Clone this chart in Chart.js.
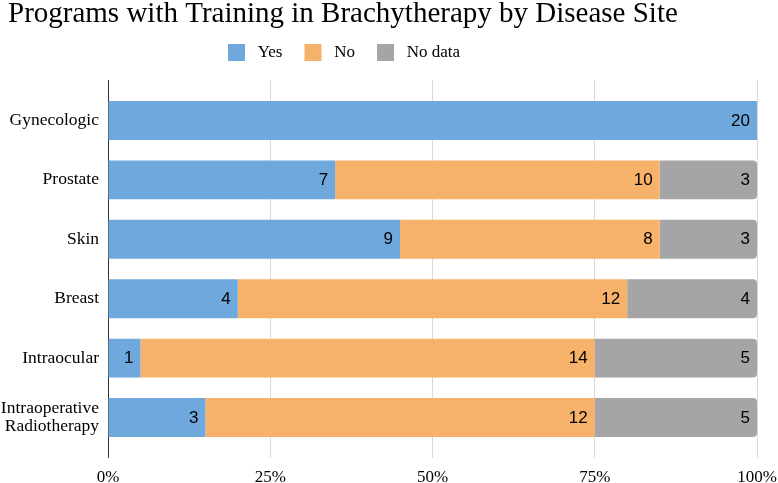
<!DOCTYPE html>
<html><head><meta charset="utf-8">
<script src="https://cdn.jsdelivr.net/npm/chart.js@4"></script>
<style>html,body{margin:0;padding:0;background:#fff;overflow:hidden}canvas{display:block}</style>
</head><body><canvas id="c" width="778" height="483" style="width:778px;height:483px"></canvas>
<script>
const categories = ['Gynecologic','Prostate','Skin','Breast','Intraocular',['Intraoperative','Radiotherapy']];
const yesCounts = [20,7,9,4,1,3];
const noCounts = [0,10,8,12,14,12];
const noDataCounts = [0,3,3,4,5,5];
const seriesNames = ['Yes','No','No data'];
const xTicks = [0,25,50,75,100];

const totals = yesCounts.map((v,i)=>v+noCounts[i]+noDataCounts[i]);
const pct = arr => arr.map((v,i)=>v/totals[i]*100);
const rawSeries = [yesCounts,noCounts,noDataCounts];
const colors = ['#6fa8dc','#f6b26b','#a5a5a5'];
const SERIF = '"Liberation Serif", "Times New Roman", serif';

const labelPlugin = {
  id:'segLabels',
  afterDatasetsDraw(chart){
    const ctx = chart.ctx;
    ctx.save();
    ctx.font = '17px "Liberation Sans", Arial, sans-serif';
    ctx.fillStyle = '#000';
    ctx.textAlign = 'right';
    ctx.textBaseline = 'middle';
    chart.data.datasets.forEach((ds,di)=>{
      const meta = chart.getDatasetMeta(di);
      meta.data.forEach((el,i)=>{
        const v = rawSeries[di][i];
        if(!v) return;
        ctx.fillText(String(v), el.x - 7, el.y + 0.5);
      });
    });
    ctx.restore();
  }
};

const layoutTweaks = {
  id:'layoutTweaks',
  afterLayout(chart){
    const lg = chart.legend;
    if(lg && lg.lineWidths){
      const pad = lg.options.labels.padding;
      const x0 = (lg.left + pad + lg.right - lg.lineWidths[0]) / 2;
      const dx = 228 - x0;
      lg.left += dx; lg.right += dx;
    }
    if(chart.scales.y) chart.scales.y.left = 0;
  }
};

new Chart(document.getElementById('c'),{
  type:'bar',
  data:{
    labels:categories,
    datasets:rawSeries.map((arr,i)=>({
      label:seriesNames[i],
      data:pct(arr),
      backgroundColor:colors[i],
      borderWidth:0,
      borderSkipped:false,
      borderRadius: i===2 ? {topLeft:0,bottomLeft:0,topRight:4,bottomRight:4} : 0,
      barPercentage:0.655,
      categoryPercentage:1
    }))
  },
  options:{
    indexAxis:'y',
    responsive:false,
    devicePixelRatio:1,
    animation:false,
    layout:{padding:{left:8,right:21,top:0,bottom:0}},
    plugins:{
      title:{display:true,text:'Programs with Training in Brachytherapy by Disease Site',align:'start',color:'#000',
        font:{family:SERIF,size:29,weight:'normal',lineHeight:0.8},padding:{top:3,bottom:-4.2}},
      subtitle:{display:true,text:'',font:{size:1,lineHeight:1},padding:{top:0,bottom:8}},
      legend:{display:true,position:'top',weight:1800,
        labels:{boxWidth:17,boxHeight:17,color:'#000',padding:22,
          font:{family:SERIF,size:17},
          generateLabels(chart){
            return Chart.defaults.plugins.legend.labels.generateLabels(chart).map(it=>Object.assign(it,{text:' '+it.text}));
          }}},
      tooltip:{enabled:false}
    },
    scales:{
      x:{stacked:true,min:0,max:100,
        afterBuildTicks(scale){scale.ticks = xTicks.map(v=>({value:v}));},
        afterFit(scale){
          scale.height = 25;
          scale.paddingLeft = 0; scale.paddingRight = 21; scale.paddingTop = 0; scale.paddingBottom = 0;
          scale.getPadding = () => ({left:0, top:0, right:21, bottom:0});
        },
        ticks:{callback:v=>v+'%',color:'#000',padding:11,font:{family:SERIF,size:17,lineHeight:1}},
        grid:{color:ctx=>ctx.index===0?'#333':'#d9d9d9',lineWidth:1,drawTicks:false},
        border:{display:false}},
      y:{stacked:true,
        afterFit(scale){
          scale.width = 100; scale.paddingTop = 0; scale.paddingBottom = 0;
          scale.getPadding = () => ({left:0, top:0, right:0, bottom:0});
        },
        afterBuildTicks(scale){scale._startValue = -0.68; scale._valueRange = 6.36;},
        ticks:{color:'#000',padding:9,font:{family:SERIF,size:17.5,lineHeight:1.05}},
        grid:{display:false,drawTicks:false},border:{display:false}}
    }
  },
  plugins:[labelPlugin,layoutTweaks]
});
</script></body></html>
